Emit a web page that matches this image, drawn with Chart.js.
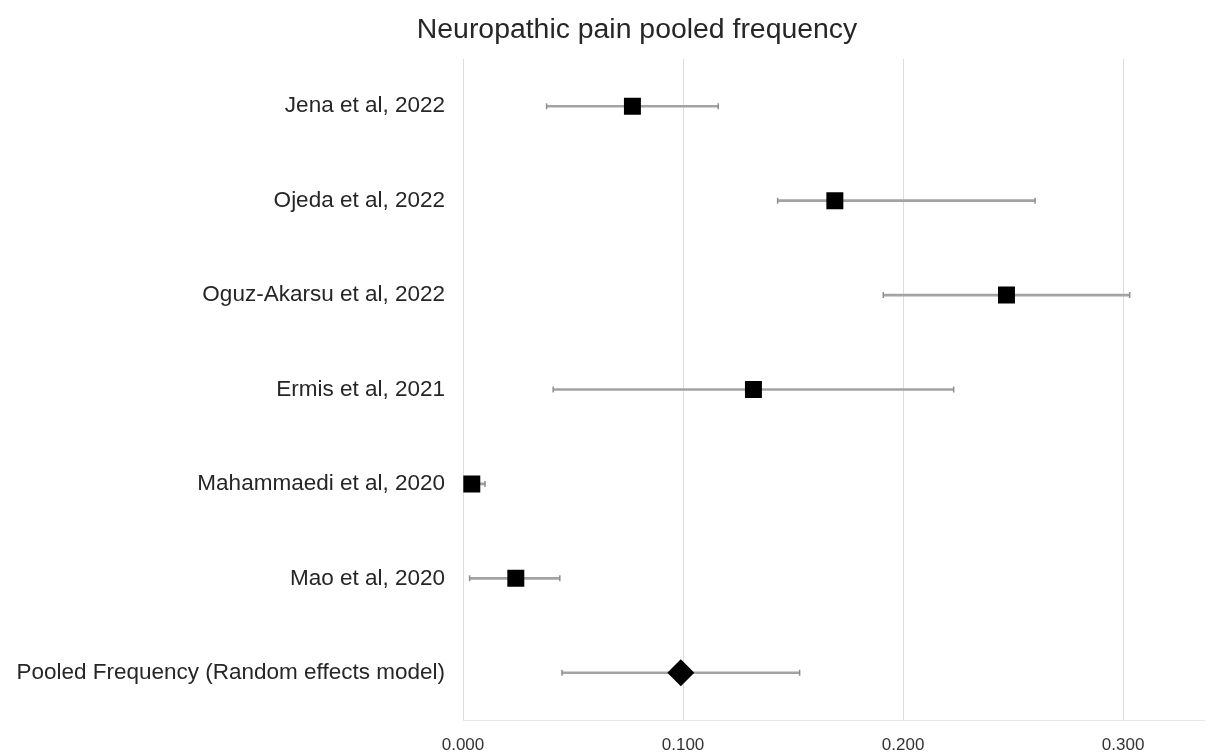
<!DOCTYPE html>
<html>
<head>
<meta charset="utf-8">
<script src="https://cdn.jsdelivr.net/npm/chart.js@4"></script>
<style>
  html, body { margin: 0; padding: 0; background: #ffffff; }
  #wrap { width: 1218px; height: 754px; position: relative; }
</style>
</head>
<body>
<div id="wrap"><canvas id="c"></canvas></div>
<script>
// ---- data ----
const chartTitle = 'Neuropathic pain pooled frequency';
const studies = [
  'Jena et al, 2022',
  'Ojeda et al, 2022',
  'Oguz-Akarsu et al, 2022',
  'Ermis et al, 2021',
  'Mahammaedi et al, 2020',
  'Mao et al, 2020',
  'Pooled Frequency (Random effects model)'
];
const estimate = [0.077, 0.169, 0.247, 0.132, 0.004, 0.024, 0.099];
const lower    = [0.038, 0.143, 0.191, 0.041, 0.001, 0.003, 0.045];
const upper    = [0.116, 0.260, 0.303, 0.223, 0.010, 0.044, 0.153];
const markerShape = ['rect', 'rect', 'rect', 'rect', 'rect', 'rect', 'rectRot'];
const tickValues = [0, 0.1, 0.2, 0.3];

// ---- derived datasets ----
const ciBars = studies.map((s, i) => [lower[i], upper[i]]);
const capPoints = [];
studies.forEach((s, i) => {
  capPoints.push({ x: lower[i], y: s });
  capPoints.push({ x: upper[i], y: s });
});
const estPoints = studies.map((s, i) => ({ x: estimate[i], y: s }));

const titlePlugin = {
  id: 'fixedTitle',
  afterDraw(chart) {
    const ctx = chart.ctx;
    ctx.save();
    ctx.font = '28.4px "Liberation Sans", Arial, sans-serif';
    ctx.fillStyle = '#262626';
    ctx.textAlign = 'center';
    ctx.textBaseline = 'middle';
    ctx.fillText(chartTitle, 637, 30);
    ctx.restore();
  }
};

new Chart(document.getElementById('c'), {
  type: 'bar',
  data: {
    labels: studies,
    datasets: [
      {
        type: 'scatter',
        data: estPoints,
        pointStyle: markerShape,
        pointRadius: markerShape.map(m => m === 'rectRot' ? 13.5 : 12),
        pointBackgroundColor: '#000000',
        pointBorderColor: '#000000',
        pointBorderWidth: 0,
        order: 0
      },
      {
        type: 'scatter',
        data: capPoints,
        pointStyle: 'line',
        rotation: 90,
        pointRadius: 3,
        pointBorderColor: '#8f8f8f',
        pointBorderWidth: 1.5,
        order: 1
      },
      {
        type: 'bar',
        indexAxis: 'y',
        data: ciBars,
        backgroundColor: '#a3a3a3',
        borderWidth: 0,
        barThickness: 2,
        order: 2
      }
    ]
  },
  options: {
    responsive: true,
    maintainAspectRatio: false,
    animation: false,
    layout: { padding: { top: 59, right: 1, left: 0, bottom: 0 } },
    plugins: {
      legend: { display: false },
      tooltip: { enabled: false },
      title: { display: false }
    },
    scales: {
      x: {
        type: 'linear',
        min: 0,
        max: 0.337,
        offset: false,
        afterBuildTicks: (scale) => { scale.ticks = tickValues.map(v => ({ value: v })); },
        afterFit: (scale) => { scale.height = 34; },
        grid: { color: '#dcdcdc', lineWidth: 1, drawTicks: false, offset: false },
        border: { display: true, color: '#e6e6e6' },
        ticks: {
          padding: 15,
          color: '#333333',
          font: { family: '"Liberation Sans", Arial, sans-serif', size: 17 },
          callback: (v) => Number(v).toFixed(3)
        }
      },
      y: {
        type: 'category',
        labels: studies,
        offset: true,
        afterFit: (scale) => { scale.width = 463; },
        grid: { display: false, drawTicks: false, offset: true },
        border: { display: false },
        ticks: {
          padding: 18,
          color: '#262626',
          font: { family: '"Liberation Sans", Arial, sans-serif', size: 22.5 }
        }
      }
    }
  },
  plugins: [titlePlugin]
});
</script>
</body>
</html>
